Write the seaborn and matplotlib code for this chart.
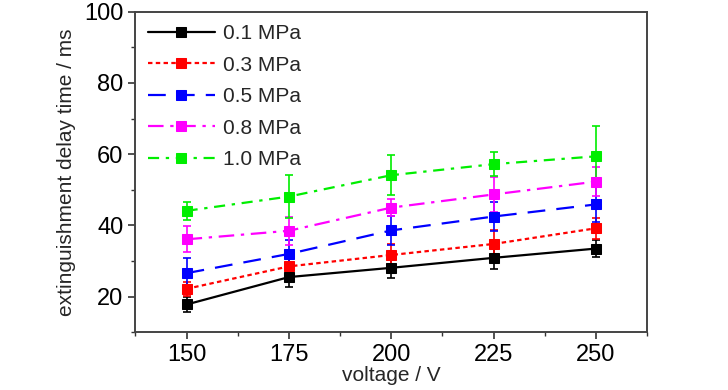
import pandas as pd
import seaborn as sns
import matplotlib.pyplot as plt
from matplotlib.ticker import MultipleLocator

voltage = [150, 175, 200, 225, 250]
labels = ['0.1 MPa', '0.3 MPa', '0.5 MPa', '0.8 MPa', '1.0 MPa']

t_01 = [17.8, 25.5, 28.1, 30.9, 33.5]
t_03 = [22.2, 28.5, 31.7, 34.8, 39.2]
t_05 = [26.6, 32.0, 38.6, 42.5, 45.9]
t_08 = [36.1, 38.5, 45.0, 48.7, 52.3]
t_10 = [44.1, 48.1, 54.1, 57.2, 59.4]

err_01 = [2.0, 2.8, 3.0, 3.0, 2.5]
err_03 = [2.0, 2.5, 3.0, 4.0, 3.0]
err_05 = [4.3, 4.0, 4.0, 4.0, 5.0]
err_08 = [3.6, 4.0, 2.4, 5.0, 4.0]
err_10 = [2.5, 6.0, 5.6, 3.4, 8.4]

values = [t_01, t_03, t_05, t_08, t_10]
errors = [err_01, err_03, err_05, err_08, err_10]
colors = ['#000000', '#ff0000', '#0000ff', '#ff00ff', '#00ee00']
styles = ['-', (0, (2, 1.5)), (0, (8, 5)), (0, (7, 3, 1.5, 3)), (0, (5, 3, 1.5, 3))]

df = pd.DataFrame()
for lab, v, e in zip(labels, values, errors):
    temp = pd.DataFrame({'voltage': voltage, 'time': v, 'err': e})
    temp['pressure'] = lab
    df = pd.concat([df, temp])

sns.set_style('ticks')
plt.rcParams['font.family'] = ['Liberation Sans', 'DejaVu Sans']

fig, ax = plt.subplots(figsize=(7.28, 3.9), dpi=100)
for lab, c, ls in zip(labels, colors, styles):
    temp = df[df['pressure'] == lab]
    ax.errorbar(temp['voltage'], temp['time'], yerr=temp['err'], fmt='none',
                ecolor=c, elinewidth=1.2, capsize=3, capthick=1.2, zorder=2)
    sns.lineplot(data=temp, x='voltage', y='time', ax=ax, color=c, linestyle=ls,
                 marker='s', markersize=6.5, markeredgecolor=c, linewidth=1.6,
                 label=lab, zorder=3)

ax.set_xlim(137.5, 262.5)
ax.set_ylim(10, 100)
ax.set_xticks(voltage)
ax.set_yticks([20, 40, 60, 80, 100])
ax.xaxis.set_minor_locator(MultipleLocator(12.5))
ax.yaxis.set_minor_locator(MultipleLocator(10))
ax.tick_params(which='major', direction='out', length=5, width=1.2, labelsize=17, colors='#333333', labelcolor='black')
ax.tick_params(which='minor', direction='out', length=3, width=1.0, colors='#333333')
for s in ax.spines.values():
    s.set_linewidth(1.4)
    s.set_color('#444444')
ax.set_xlabel('voltage / V', fontsize=15, labelpad=0)
ax.set_ylabel('extinguishment delay time / ms', fontsize=15, labelpad=6)
ax.legend(loc='upper left', frameon=False, fontsize=15, handlelength=3.2,
          borderaxespad=0.2, labelspacing=0.6, handletextpad=0.4)

plt.subplots_adjust(left=0.186, right=0.889, top=0.97, bottom=0.148)
plt.savefig('out.png', dpi=100)
